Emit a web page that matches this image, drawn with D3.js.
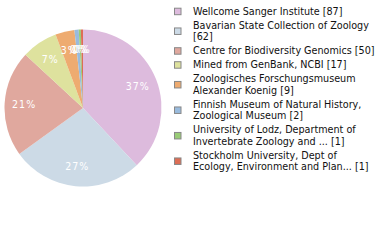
<!DOCTYPE html>
<html>
<head>
<meta charset="utf-8">
<script src="https://cdn.jsdelivr.net/npm/d3@7"></script>
<style>
html,body{margin:0;padding:0;background:#fff;}
svg{display:block;}
</style>
</head>
<body>
<svg id="chart" width="380" height="240"></svg>
<script>
const categories = [
  "Wellcome Sanger Institute",
  "Bavarian State Collection of Zoology",
  "Centre for Biodiversity Genomics",
  "Mined from GenBank, NCBI",
  "Zoologisches Forschungsmuseum Alexander Koenig",
  "Finnish Museum of Natural History, Zoological Museum",
  "University of Lodz, Department of Invertebrate Zoology and ...",
  "Stockholm University, Dept of Ecology, Environment and Plan..."
];
const values = [87, 62, 50, 17, 9, 2, 1, 1];
const legendLines = [
  ["Wellcome Sanger Institute [87]"],
  ["Bavarian State Collection of Zoology", "[62]"],
  ["Centre for Biodiversity Genomics [50]"],
  ["Mined from GenBank, NCBI [17]"],
  ["Zoologisches Forschungsmuseum", "Alexander Koenig [9]"],
  ["Finnish Museum of Natural History,", "Zoological Museum [2]"],
  ["University of Lodz, Department of", "Invertebrate Zoology and ... [1]"],
  ["Stockholm University, Dept of", "Ecology, Environment and Plan... [1]"]
];
const colors = ["#ddbbdd", "#ccdae6", "#e0a89e", "#dee29e", "#eeab70", "#99bbdd", "#99cc77", "#dd6e55"];

const svg = d3.select("#chart");
const font = "'DejaVu Sans Condensed', 'DejaVu Sans', sans-serif";
const cx = 83, cy = 108, r = 78.5;
const total = d3.sum(values);
const color = d3.scaleOrdinal().domain(categories).range(colors);

const pie = d3.pie().value(d => d.v).sort(null);
const data = pie(categories.map((c, i) => ({c, v: values[i]})));
const arc = d3.arc().innerRadius(0).outerRadius(r);
const labelArc = d3.arc().innerRadius(59).outerRadius(59);

const g = svg.append("g").attr("transform", `translate(${cx},${cy})`);
g.selectAll("path").data(data).join("path")
  .attr("d", arc)
  .attr("fill", d => color(d.data.c));

g.selectAll("text").data(data).join("text")
  .attr("transform", d => `translate(${labelArc.centroid(d)})`)
  .attr("text-anchor", "middle")
  .attr("dy", "0.35em")
  .attr("fill", "#fff")
  .attr("font-family", font)
  .attr("font-size", 10.5)
  .attr("letter-spacing", 1)
  .text(d => Math.floor(d.data.v / total * 100) + "%");

// legend
const lineH = 11.5, gap = 14;
let y = 14.7;
const lg = svg.append("g");
legendLines.forEach((lines, i) => {
  const first = y;
  lines.forEach((t, j) => {
    lg.append("text")
      .attr("x", 193).attr("y", y)
      .attr("font-family", font)
      .attr("font-size", 10.7)
      .attr("fill", "#111")
      .text(t);
    if (j < lines.length - 1) y += lineH;
  });
  const last = y;
  const mid = (first + last) / 2 - 3.5;
  lg.append("rect")
    .attr("x", 174.5).attr("y", mid - 3)
    .attr("width", 6.5).attr("height", 6.5)
    .attr("fill", color(categories[i]))
    .attr("stroke", "#888").attr("stroke-width", 1);
  y += gap;
});
</script>
</body>
</html>
